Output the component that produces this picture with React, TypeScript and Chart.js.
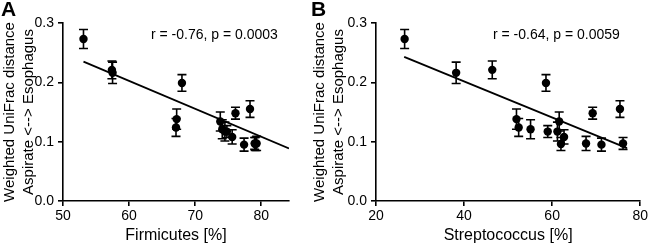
import React, { useEffect, useRef } from 'react';
import { Chart, registerables } from 'chart.js';

Chart.register(...registerables);

// Weighted UniFrac distance (aspirate <-> esophagus) per subject, with error
const distanceValues = [0.273, 0.221, 0.216, 0.199, 0.138, 0.124, 0.134, 0.121, 0.117, 0.117, 0.108, 0.148, 0.155, 0.095, 0.096, 0.097, 0.097];
const distanceErrors = [0.016, 0.015, 0.018, 0.014, 0.017, 0.015, 0.016, 0.016, 0.010, 0.016, 0.012, 0.010, 0.014, 0.011, 0.011, 0.012, 0.010];
// Relative abundances per subject
const firmicutesPct = [53.1, 57.4, 57.5, 68.0, 67.2, 67.1, 73.8, 74.1, 74.8, 74.5, 75.6, 76.1, 78.3, 77.4, 79.1, 79.3, 79.0];
const streptococcusPct = [26.5, 46.4, 38.2, 58.6, 51.9, 52.4, 61.6, 55.1, 59.0, 61.2, 62.7, 69.2, 75.4, 71.2, 62.0, 67.7, 76.1];

// Regression lines (end points)
const fitFirmicutesX = [53.1, 84.2];
const fitFirmicutesY = [0.235, 0.0885];
const fitStreptococcusX = [26.4, 77.0];
const fitStreptococcusY = [0.243, 0.089];

// Tick labels
const distanceTicks = [0, 0.1, 0.2, 0.3];
const firmicutesTicks = [50, 60, 70, 80];
const streptococcusTicks = [20, 40, 60, 80];

const yTitleLines = ['Weighted UniFrac distance', 'Aspirate <--> Esophagus'];
const statsFirmicutes = 'r = -0.76, p = 0.0003';
const statsStreptococcus = 'r = -0.64, p = 0.0059';

const FONT = "'Liberation Sans', Arial, Helvetica, sans-serif";

type PanelProps = {
  letter: string;
  xs: number[];
  xTicks: number[];
  xMin: number;
  xMax: number;
  xTitle: string;
  fitX: number[];
  fitY: number[];
  stats: string;
  width: number;
  left: number;
  yAxisWidth: number;
  padRight: number;
  statsOffset: number;
};

function Panel(p: PanelProps) {
  const ref = useRef<HTMLCanvasElement | null>(null);
  useEffect(() => {
    if (!ref.current) return;
    const plugin = {
      id: 'panelExtras',
      beforeDatasetsDraw(chart: any) {
        const ctx = chart.ctx;
        const meta = chart.getDatasetMeta(0);
        const yScale = chart.scales.y;
        ctx.save();
        ctx.strokeStyle = '#000';
        ctx.lineWidth = 1.6;
        meta.data.forEach((pt: any, i: number) => {
          const v = distanceValues[i];
          const e = distanceErrors[i];
          const x = pt.x;
          const yt = yScale.getPixelForValue(v + e);
          const yb = yScale.getPixelForValue(v - e);
          ctx.beginPath();
          ctx.moveTo(x, yt);
          ctx.lineTo(x, yb);
          ctx.moveTo(x - 4.5, yt);
          ctx.lineTo(x + 4.5, yt);
          ctx.moveTo(x - 4.5, yb);
          ctx.lineTo(x + 4.5, yb);
          ctx.stroke();
        });
        ctx.restore();
      },
      afterDraw(chart: any) {
        const ctx = chart.ctx;
        ctx.save();
        ctx.fillStyle = '#000';
        ctx.textBaseline = 'alphabetic';
        ctx.textAlign = 'left';
        ctx.font = `bold 21px ${FONT}`;
        ctx.fillText(p.letter, 1, 15.5);
        ctx.font = `14px ${FONT}`;
        ctx.fillText(p.stats, chart.chartArea.left + p.statsOffset, 38.5);
        ctx.restore();
      },
    };
    const chart = new Chart(ref.current, {
      type: 'scatter',
      data: {
        datasets: [
          {
            type: 'scatter',
            data: p.xs.map((x, i) => ({ x, y: distanceValues[i] })),
            backgroundColor: '#000',
            borderColor: '#000',
            pointRadius: 4.2,
            pointHoverRadius: 4.2,
            borderWidth: 0,
          },
          {
            type: 'line',
            data: p.fitX.map((x, i) => ({ x, y: p.fitY[i] })),
            borderColor: '#000',
            borderWidth: 1.8,
            pointRadius: 0,
            fill: false,
            showLine: true,
          } as any,
        ],
      },
      options: {
        responsive: false,
        animation: false,
        events: [],
        layout: { padding: { left: 0, right: p.padRight, top: 23, bottom: 0 } },
        plugins: { legend: { display: false }, tooltip: { enabled: false } },
        scales: {
          x: {
            type: 'linear',
            min: p.xMin,
            max: p.xMax,
            afterBuildTicks: (s: any) => {
              s.ticks = p.xTicks.map((v) => ({ value: v }));
            },
            afterFit: (s: any) => {
              s.height = 44;
            },
            ticks: { color: '#000', font: { family: FONT, size: 14 }, padding: 2, callback: (v: any) => String(v) },
            grid: { drawOnChartArea: false, color: '#000', lineWidth: 1.6, tickLength: 5 },
            border: { color: '#000', width: 1.6 },
            title: { display: true, text: p.xTitle, color: '#000', font: { family: FONT, size: 16 }, padding: { top: 0, bottom: 0 } },
          },
          y: {
            type: 'linear',
            min: 0,
            max: 0.3,
            afterBuildTicks: (s: any) => {
              s.ticks = distanceTicks.map((v) => ({ value: v }));
            },
            afterFit: (s: any) => {
              s.width = p.yAxisWidth;
            },
            ticks: { color: '#000', font: { family: FONT, size: 14 }, padding: 4, callback: (v: any) => Number(v).toFixed(1) },
            grid: { drawOnChartArea: false, color: '#000', lineWidth: 1.6, tickLength: 5 },
            border: { color: '#000', width: 1.6 },
            title: { display: true, text: yTitleLines, color: '#000', font: { family: FONT, size: 15, lineHeight: 1.27 }, padding: { top: 0, bottom: 0 } },
          },
        },
      } as any,
      plugins: [plugin],
    });
    return () => chart.destroy();
  }, []);
  return (
    <canvas
      ref={ref}
      width={p.width}
      height={245}
      style={{ position: 'absolute', left: p.left, top: 0, width: p.width, height: 245 }}
    />
  );
}

export default function App() {
  return (
    <div style={{ position: 'absolute', left: 0, top: 0, width: 650, height: 245, background: '#fff', overflow: 'hidden' }}>
      <Panel
        letter="A"
        xs={firmicutesPct}
        xTicks={firmicutesTicks}
        xMin={50}
        xMax={84.2}
        xTitle="Firmicutes [%]"
        fitX={fitFirmicutesX}
        fitY={fitFirmicutesY}
        stats={statsFirmicutes}
        width={310}
        left={0}
        yAxisWidth={63}
        padRight={21}
        statsOffset={88}
      />
      <Panel
        letter="B"
        xs={streptococcusPct}
        xTicks={streptococcusTicks}
        xMin={20}
        xMax={80}
        xTitle="Streptococcus [%]"
        fitX={fitStreptococcusX}
        fitY={fitStreptococcusY}
        stats={statsStreptococcus}
        width={340}
        left={310}
        yAxisWidth={66}
        padRight={8}
        statsOffset={117}
      />
    </div>
  );
}
